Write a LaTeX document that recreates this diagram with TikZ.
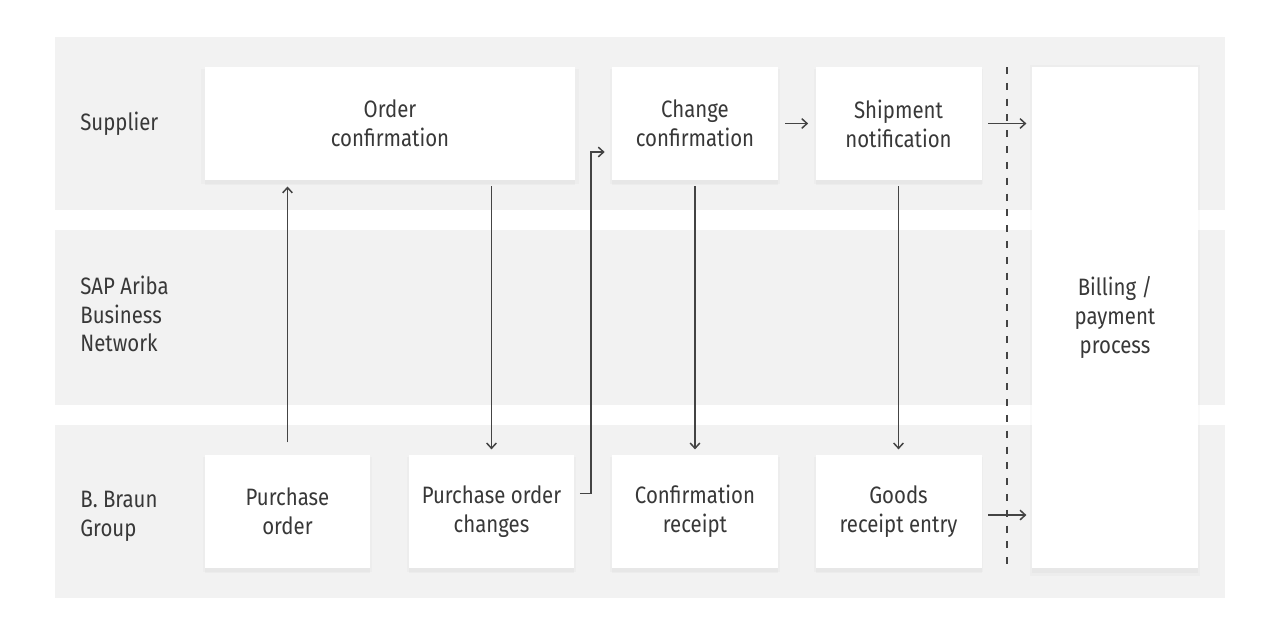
\documentclass[tikz,border=0pt]{standalone}
\usepackage{fontspec}
\setmainfont{Fira Sans}[FakeStretch=0.86]
\usetikzlibrary{shadows, arrows.meta}

\definecolor{bandgray}{HTML}{F2F2F2}
\definecolor{txtgray}{HTML}{383838}
\definecolor{linegray}{HTML}{444444}

\tikzset{
    box/.style={rectangle, fill=white, text=txtgray, align=center,
        minimum height=2.26cm, inner sep=0pt,
        drop shadow={shadow xshift=0pt, shadow yshift=-3pt, opacity=0.05},
        drop shadow={shadow xshift=0pt, shadow yshift=-1.5pt, shadow scale=1.02, opacity=0.04}},
    smallbox/.style={box, minimum width=3.32cm},
    lanelabel/.style={anchor=west, align=left, text=txtgray, inner sep=0pt},
    arr/.style={-{Straight Barb[length=3pt, width=5.5pt]}, draw=linegray, line width=0.85pt},
}

\begin{document}
\begin{tikzpicture}[x=0.02cm, y=-0.02cm, font=\fontsize{13.5}{16.4}\selectfont]
            \useasboundingbox (0,0) rectangle (1280,640);
            \fill[white] (0,0) rectangle (1280,640);

            % Lanes
            \foreach \top/\bot in {37/210, 230/405, 425/598} {
                \fill[bandgray] (55,\top) rectangle (1225,\bot);
            }

            % Lane labels
            \node[lanelabel] (supplier) at (80,124) {Supplier};
            \node[lanelabel] (ariba) at (80,314) {SAP Ariba\\Business\\Network};
            \node[lanelabel] (braun) at (80,516) {B. Braun\\Group};

            % Boxes
            \node[box, minimum width=7.4cm] (ordconf) at (390,123.5) {Order\\confirmation};
            \node[smallbox] (chgconf) at (695,123.5) {Change\\confirmation};
            \node[smallbox] (shipnot) at (898.5,123.5) {Shipment\\notification};
            \node[smallbox] (purord) at (287.5,511.5) {Purchase\\order};
            \node[smallbox] (pochg) at (491.5,511.5) {Purchase order\\changes};
            \node[smallbox] (confrec) at (695,511.5) {Confirmation\\receipt};
            \node[smallbox] (goodsrec) at (898.5,511.5) {Goods\\receipt entry};
            \node[smallbox, minimum height=10.02cm] (billing) at (1115,317.5) {Billing /\\payment\\process};

            % Divider
            \draw[linegray, line width=0.7pt, dash pattern=on 4pt off 5pt] (1007,67) -- (1007,570);

            % Arrows
            \draw[arr, shorten <=7pt, shorten >=3.5pt] (purord.north) -- (ordconf.south -| purord.north);
            \draw[arr, shorten <=3.5pt, shorten >=3pt] (ordconf.south -| pochg.north) -- (pochg.north);
            \draw[arr] ([shift={(5,-18)}]pochg.east) -- ++(11,0) |- ([shift={(-7,28.5)}]chgconf.west);
            \draw[arr, shorten <=3.5pt, shorten >=3pt] (chgconf.south) -- (confrec.north);
            \draw[arr, shorten <=3.5pt, shorten >=3pt] (shipnot.south) -- (goodsrec.north);
            \draw[arr, shorten <=4pt, shorten >=4pt] (chgconf.east) -- (shipnot.west);
            \draw[arr, shorten <=3.5pt, shorten >=3pt] (shipnot.east) -- (shipnot.east -| billing.west);
            \draw[arr, shorten <=3.5pt, shorten >=3pt] ([yshift=-2pt]goodsrec.east) -- ([yshift=-2pt]goodsrec.east -| billing.west);
        \end{tikzpicture}
\end{document}
